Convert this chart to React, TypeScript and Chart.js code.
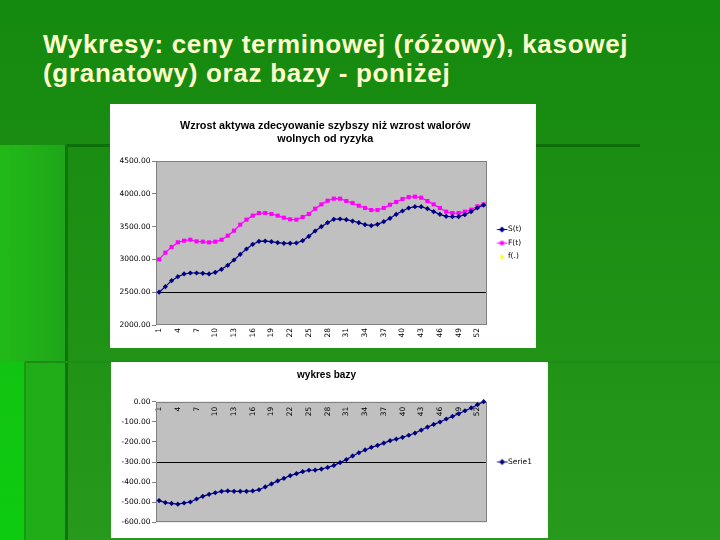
import React, { useEffect, useRef } from 'react';
import { Chart, registerables } from 'chart.js';

Chart.register(...registerables);

// ---------- data ----------
const weeks = ['1','2','3','4','5','6','7','8','9','10','11','12','13','14','15','16','17','18','19','20','21','22','23','24','25','26','27','28','29','30','31','32','33','34','35','36','37','38','39','40','41','42','43','44','45','46','47','48','49','50','51','52','53'];
const weekTickLabels = ['1','4','7','10','13','16','19','22','25','28','31','34','37','40','43','46','49','52'];

const spotS = [2500, 2585, 2676, 2737, 2778, 2793, 2793, 2788, 2778, 2803, 2849, 2910, 2991, 3077, 3159, 3230, 3275, 3280, 3270, 3255, 3245, 3245, 3250, 3285, 3352, 3433, 3499, 3560, 3611, 3616, 3606, 3585, 3560, 3530, 3514, 3535, 3575, 3626, 3687, 3738, 3784, 3804, 3804, 3773, 3728, 3687, 3657, 3652, 3652, 3682, 3728, 3784, 3829];
const futuresF = [3000, 3103, 3189, 3260, 3285, 3300, 3275, 3270, 3260, 3270, 3300, 3362, 3438, 3530, 3606, 3667, 3707, 3707, 3692, 3667, 3636, 3611, 3606, 3646, 3692, 3773, 3839, 3895, 3926, 3926, 3890, 3860, 3819, 3784, 3753, 3753, 3784, 3834, 3875, 3921, 3951, 3956, 3941, 3890, 3839, 3784, 3728, 3707, 3707, 3728, 3758, 3809, 3839];
const fDot: (number | null)[] = [];
const basis = [-492, -502, -506, -510, -504, -499, -484, -471, -461, -453, -446, -444, -446, -446, -446, -444, -438, -424, -409, -394, -381, -368, -358, -348, -341, -340, -335, -327, -317, -303, -288, -270, -254, -240, -227, -217, -206, -194, -186, -177, -167, -156, -141, -126, -113, -101, -86, -73, -60, -45, -31, -15, 0];

const priceTicks = [2000, 2500, 3000, 3500, 4000, 4500];
const basisTicks = [-600, -500, -400, -300, -200, -100, 0];
const priceRefLine = 2500;
const basisRefLine = -300;

const slideTitle = ['Wykresy: ceny terminowej (różowy), kasowej', '(granatowy) oraz bazy - poniżej'];
const title1 = ['Wzrost aktywa zdecyowanie szybszy niż wzrost walorów', 'wolnych od ryzyka'];
const title2 = 'wykres bazy';
const seriesNames = ['S(t)', 'F(t)', 'f(.)'];
const basisName = 'Serie1';

// ---------- styles ----------
const NAVY = '#000080';
const MAGENTA = '#FF00FF';
const YELLOW = '#FFFF00';
const tickFont = { family: "'DejaVu Sans', sans-serif", size: 7.5 };
const titleFamily = "'Liberation Sans', Arial, sans-serif";

const plotFrame = {
  id: 'plotFrame',
  beforeDraw(chart: any) {
    const { ctx, chartArea: a } = chart;
    ctx.save();
    ctx.fillStyle = '#C0C0C0';
    ctx.fillRect(a.left, a.top, a.right - a.left, a.bottom - a.top);
    ctx.restore();
  },
  beforeDatasetsDraw(chart: any) {
    const { ctx, chartArea: a } = chart;
    ctx.save();
    ctx.strokeStyle = '#808080';
    ctx.lineWidth = 1;
    const l = Math.round(a.left) + 0.5;
    const t = Math.round(a.top) + 0.5;
    const r = Math.round(a.right) - 0.5;
    const b = Math.round(a.bottom) - 0.5;
    ctx.strokeRect(l, t, r - l, b - t);
    ctx.restore();
  },
};

function makeIcon(color: string, marker: 'diamond' | 'square' | 'triangle', line: boolean) {
  const c = document.createElement('canvas');
  c.width = 20;
  c.height = 9;
  const g = c.getContext('2d')!;
  const cx = 13.5;
  const cy = 4.5;
  if (line) {
    g.strokeStyle = color;
    g.lineWidth = 1;
    g.beginPath();
    g.moveTo(8.5, cy);
    g.lineTo(19, cy);
    g.stroke();
  }
  g.fillStyle = color;
  g.beginPath();
  if (marker === 'diamond') {
    g.moveTo(cx, cy - 3);
    g.lineTo(cx + 3, cy);
    g.lineTo(cx, cy + 3);
    g.lineTo(cx - 3, cy);
    g.closePath();
    g.fill();
  } else if (marker === 'square') {
    g.fillRect(cx - 2, cy - 2, 4, 4);
  } else {
    g.moveTo(cx, cy - 2.5);
    g.lineTo(cx + 2.5, cy + 2);
    g.lineTo(cx - 2.5, cy + 2);
    g.closePath();
    g.fill();
  }
  return c;
}

function legendOptions(icons: HTMLCanvasElement[]) {
  return {
    display: true,
    position: 'right' as const,
    fullSize: false,
    labels: {
      usePointStyle: true,
      pointStyleWidth: 11.5,
      padding: 6,
      color: '#000',
      font: tickFont,
      generateLabels: (chart: any) => {
        const items = (Chart.defaults.plugins.legend.labels as any).generateLabels(chart);
        return items.map((it: any, i: number) => ({ ...it, pointStyle: icons[i], rotation: 0 }));
      },
    },
  };
}

function xTickCallback(_v: any, i: number) {
  return weekTickLabels.includes(weeks[i]) ? weeks[i] : '';
}

function PriceChart() {
  const ref = useRef<HTMLCanvasElement>(null);
  useEffect(() => {
    const icons = [makeIcon(NAVY, 'diamond', true), makeIcon(MAGENTA, 'square', true), makeIcon(YELLOW, 'triangle', false)];
    const chart = new Chart(ref.current!, {
      type: 'line',
      data: {
        labels: weeks,
        datasets: [
          { label: seriesNames[0], data: spotS, borderColor: NAVY, backgroundColor: NAVY, borderWidth: 1.2, pointStyle: 'rectRot', pointRadius: 2.6, pointBorderWidth: 0, clip: false } as any,
          { label: seriesNames[1], data: futuresF, borderColor: MAGENTA, backgroundColor: MAGENTA, borderWidth: 1.2, pointStyle: 'rect', pointRadius: 2.9, pointBorderWidth: 0, clip: false } as any,
          { label: seriesNames[2], data: fDot, borderColor: YELLOW, backgroundColor: YELLOW, showLine: false, pointStyle: 'triangle', pointRadius: 3, clip: false } as any,
        ],
      },
      options: {
        responsive: false,
        animation: false,
        events: [],
        layout: { padding: { left: 9, right: 4.5, top: 0, bottom: 0 } },
        plugins: {
          title: { display: true, text: title1, color: '#000', font: { family: titleFamily, size: 10.8, weight: 'bold', lineHeight: 1.26 }, padding: { top: 15, bottom: 14.8 } },
          legend: legendOptions(icons) as any,
          tooltip: { enabled: false },
        },
        scales: {
          x: {
            type: 'category',
            offset: true,
            afterFit: (s: any) => { s.height = 23; },
            grid: { display: false, drawTicks: false },
            border: { display: false },
            ticks: { autoSkip: false, minRotation: 90, maxRotation: 90, padding: 3, color: '#000', font: tickFont, callback: xTickCallback },
          },
          y: {
            min: priceTicks[0],
            max: priceTicks[priceTicks.length - 1],
            afterBuildTicks: (s: any) => { s.ticks = priceTicks.map((v) => ({ value: v })); },
            afterFit: (s: any) => { s.width = 37; },
            grid: { color: (c: any) => (c.tick && c.tick.value === priceRefLine ? '#000' : 'rgba(0,0,0,0)'), tickColor: '#808080', tickLength: 4, drawTicks: true },
            border: { display: false },
            ticks: { color: '#000', font: tickFont, padding: 1.5, callback: (v: any) => Number(v).toFixed(2) },
          },
        },
      } as any,
      plugins: [plotFrame],
    });
    return () => chart.destroy();
  }, []);
  return <canvas ref={ref} width={426} height={244} style={{ display: 'block' }} />;
}

function BasisChart() {
  const ref = useRef<HTMLCanvasElement>(null);
  useEffect(() => {
    const icons = [makeIcon(NAVY, 'diamond', true)];
    const chart = new Chart(ref.current!, {
      type: 'line',
      data: {
        labels: weeks,
        datasets: [
          { label: basisName, data: basis, borderColor: NAVY, backgroundColor: NAVY, borderWidth: 1.2, pointStyle: 'rectRot', pointRadius: 2.6, pointBorderWidth: 0, clip: false } as any,
        ],
      },
      options: {
        responsive: false,
        animation: false,
        events: [],
        layout: { padding: { left: 0, right: 6, top: 0, bottom: 15.7 } },
        plugins: {
          title: { display: true, text: title2, color: '#000', font: { family: titleFamily, size: 10, weight: 'bold', lineHeight: 1.2 }, padding: { top: 7, bottom: 20.7 } },
          legend: legendOptions(icons) as any,
          tooltip: { enabled: false },
        },
        scales: {
          x: {
            type: 'category',
            offset: true,
            position: { y: 0 },
            grid: { display: false, drawTicks: false },
            border: { display: false },
            ticks: { autoSkip: false, minRotation: 90, maxRotation: 90, padding: 5, color: '#000', font: tickFont, callback: xTickCallback },
          },
          y: {
            min: basisTicks[0],
            max: basisTicks[basisTicks.length - 1],
            afterBuildTicks: (s: any) => { s.ticks = basisTicks.map((v) => ({ value: v })); },
            afterFit: (s: any) => { s.width = 45; },
            grid: { color: (c: any) => (c.tick && c.tick.value === basisRefLine ? '#000' : 'rgba(0,0,0,0)'), tickColor: '#808080', tickLength: 4, drawTicks: true },
            border: { display: false },
            ticks: { color: '#000', font: tickFont, padding: 1.5, callback: (v: any) => Number(v).toFixed(2) },
          },
        },
      } as any,
      plugins: [plotFrame],
    });
    return () => chart.destroy();
  }, []);
  return <canvas ref={ref} width={437} height={176} style={{ display: 'block' }} />;
}

export default function App() {
  useEffect(() => {
    document.body.style.margin = '0';
  }, []);
  const abs = (l: number, t: number, w: number, h: number, extra: React.CSSProperties = {}): React.CSSProperties => ({
    position: 'absolute', left: l, top: t, width: w, height: h, ...extra,
  });
  return (
    <div style={{ position: 'absolute', left: 0, top: 0, width: 720, height: 540, overflow: 'hidden', background: 'linear-gradient(to bottom, #148a0e 0%, #1a8d12 30%, #279a1d 100%)' }}>
      {/* slide decorations */}
      <div style={abs(0, 145, 66, 217, { background: 'linear-gradient(to right, #22ba18, #1ea619)' })} />
      <div style={abs(0, 362, 25, 178, { background: 'linear-gradient(to bottom, #12c412, #0ccc10)' })} />
      <div style={abs(25, 362, 41, 178, { background: '#1fae17' })} />
      <div style={abs(66, 144, 574, 3, { background: '#0d6e0c' })} />
      <div style={abs(65, 145, 3, 395, { background: '#0f740d' })} />
      <div style={abs(25, 361, 695, 2, { background: '#1f8a16' })} />
      <div style={abs(24, 362, 2, 178, { background: '#189a12' })} />

      <div style={{ position: 'absolute', left: 43, top: 30, color: '#FFFFCC', fontFamily: "'Liberation Sans', Arial, sans-serif", fontWeight: 'bold', fontSize: 26, lineHeight: '29.4px', letterSpacing: '0.7px', whiteSpace: 'nowrap' }}>
        <div>{slideTitle[0]}</div>
        <div>{slideTitle[1]}</div>
      </div>

      <div style={abs(110, 104, 426, 244, { background: '#fff' })}>
        <PriceChart />
      </div>
      <div style={abs(111, 362, 437, 176, { background: '#fff' })}>
        <BasisChart />
      </div>
    </div>
  );
}
